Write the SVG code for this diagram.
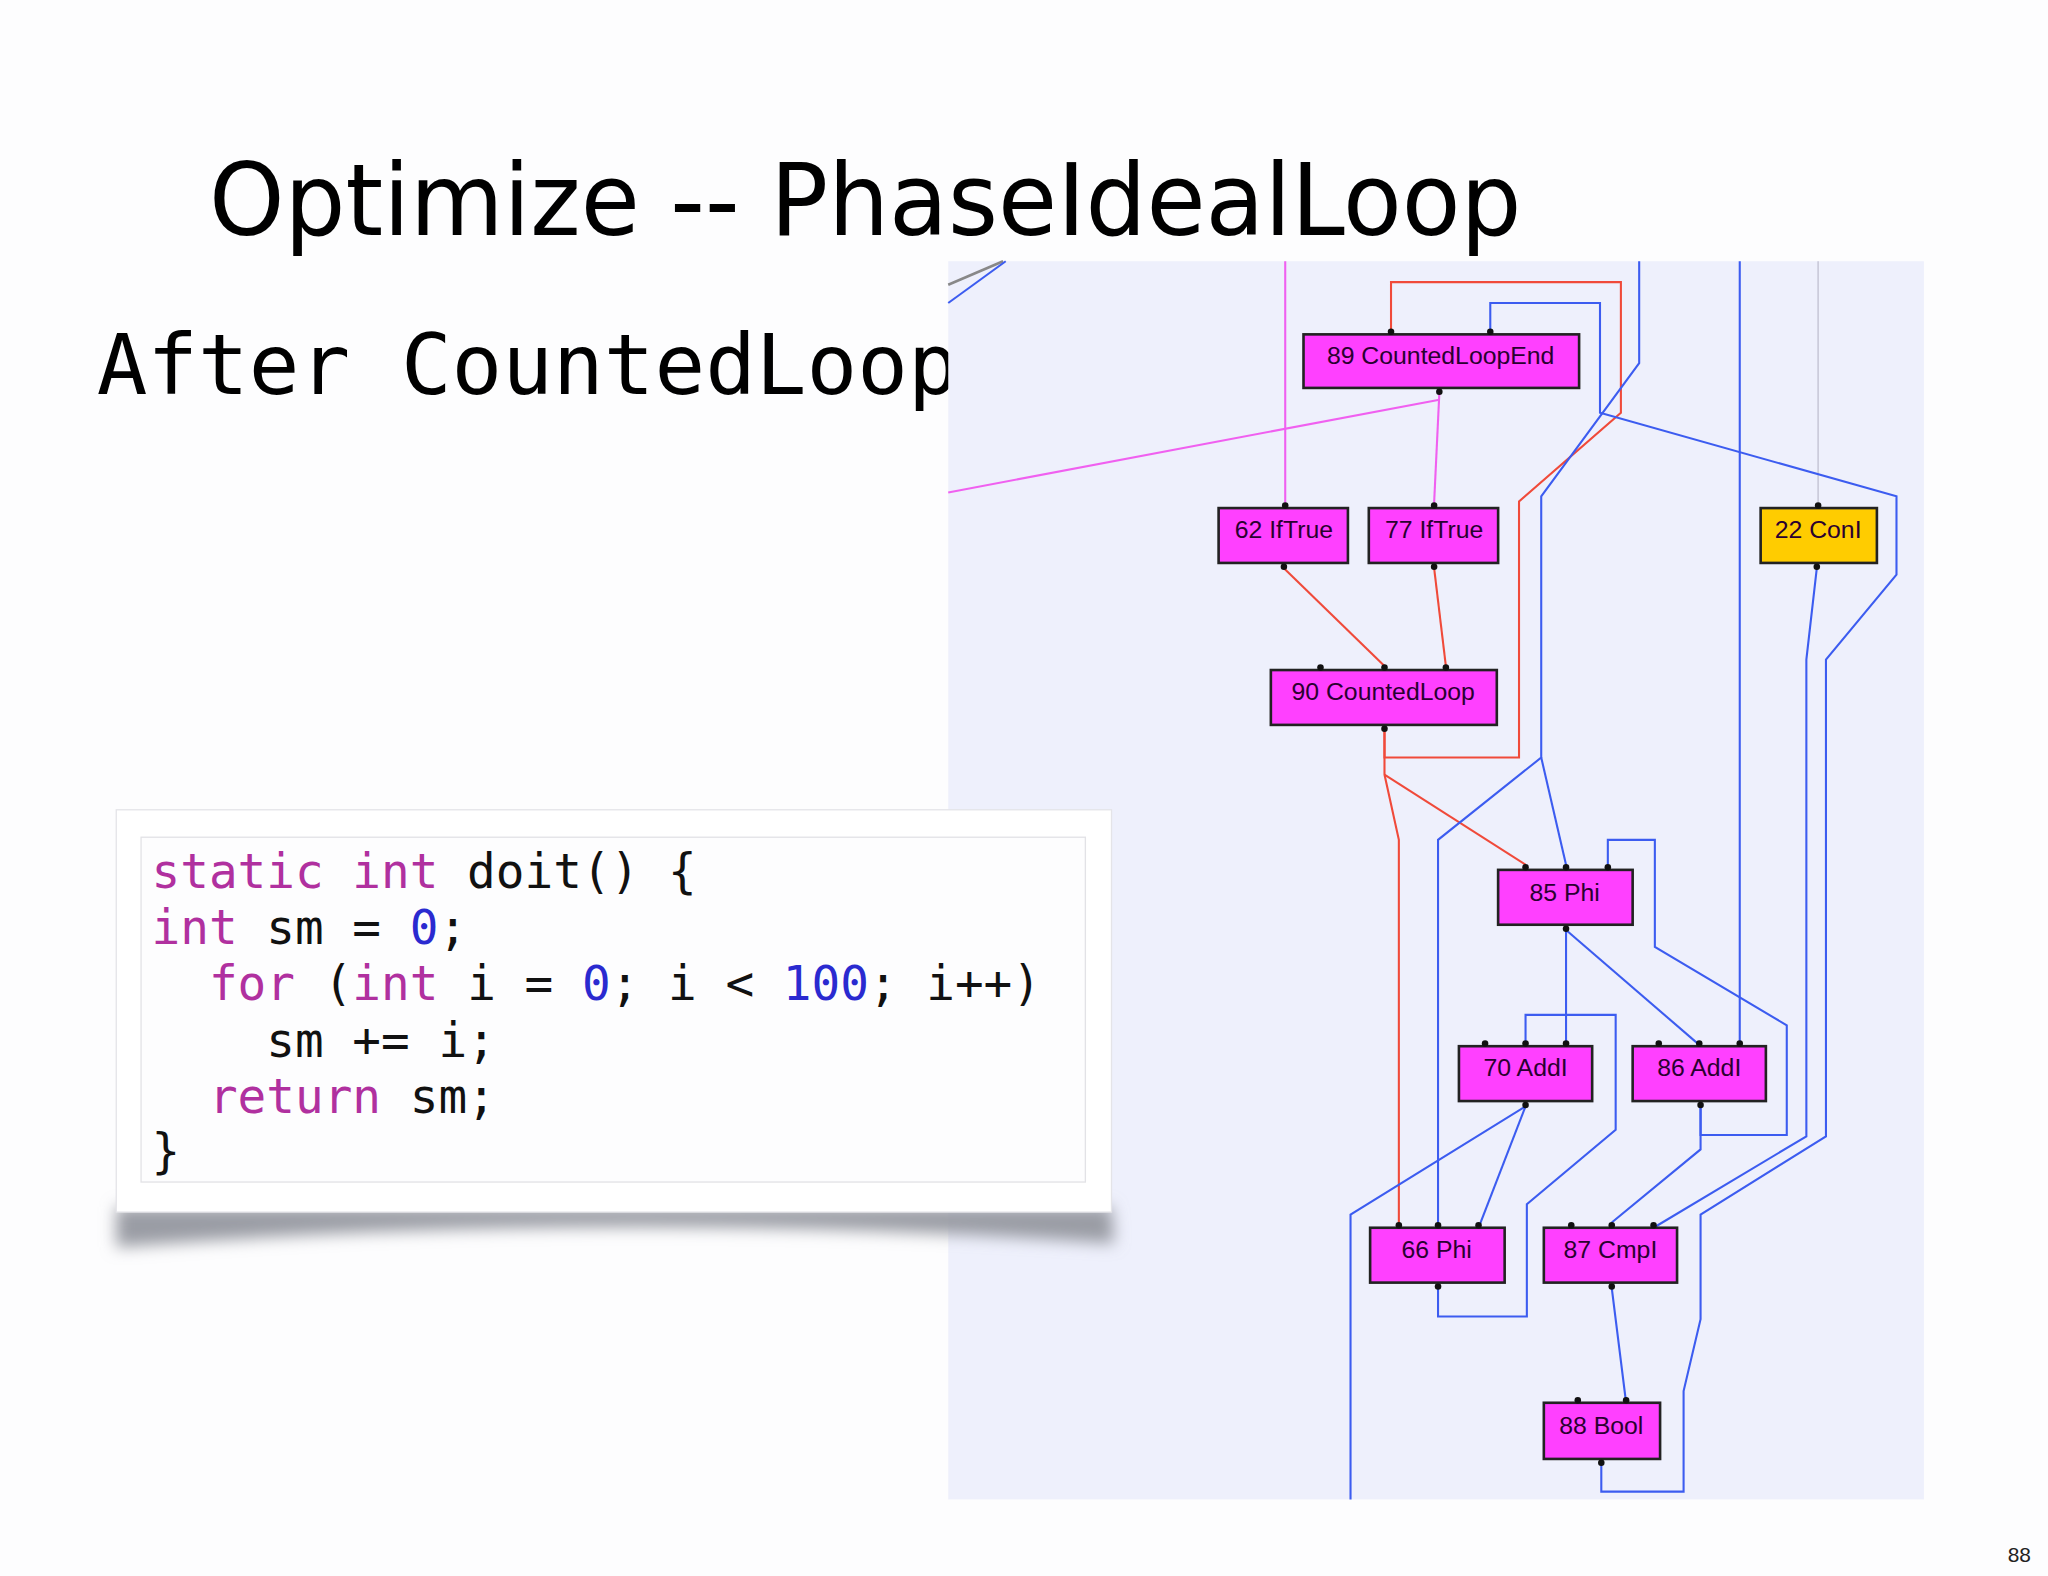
<svg xmlns="http://www.w3.org/2000/svg" width="2048" height="1576" viewBox="0 0 2048 1576">
<defs>
<style>
.node rect{fill:#ff40ff;stroke:#222;stroke-width:2}
.node text{font-family:"Liberation Sans",Arial,sans-serif;font-size:19px;fill:#2a0030;text-anchor:middle}
.r{fill:none;stroke:#f04a3a;stroke-width:1.6}
.b{fill:none;stroke:#3c5cf0;stroke-width:1.6}
.m{fill:none;stroke:#f060f0;stroke-width:1.6}
.code{font-family:"DejaVu Sans Mono","Liberation Mono",monospace;font-size:36.5px;fill:#111}
.k{fill:#b0309f}.n{fill:#2a2ad0}
</style>
<filter id="blur" x="-10%" y="-50%" width="120%" height="200%"><feGaussianBlur stdDeviation="6"/></filter>
</defs>
<rect width="2048" height="1576" fill="#fdfdfe"/>
<g transform="scale(1.30612)">
<text x="160" y="180" font-family="DejaVu Sans,sans-serif" font-size="76" textLength="1005" lengthAdjust="spacingAndGlyphs" fill="#000">Optimize -- PhaseIdealLoop</text>
<text x="74" y="302" font-family="DejaVu Sans Mono,monospace" font-size="64" textLength="660" lengthAdjust="spacingAndGlyphs" fill="#000">After CountedLoop</text>
<rect x="726" y="200" width="747" height="948" fill="#eef0fc"/>
<line x1="726" y1="218" x2="768" y2="200" stroke="#888" stroke-width="2"/>
<line x1="726" y1="232" x2="770" y2="200" stroke="#3c5cf0" stroke-width="1.6"/>
<g id="connectors">
<polyline class="m" points="984,200 984,385"/>
<polyline class="m" points="1102,301 1098,385"/>
<polyline class="m" points="1102,306 726,377"/>
<polyline points="1392,200 1392,385" fill="none" stroke="#c8c8d8" stroke-width="1.2"/>
<polyline class="r" points="1060,559 1060,580 1163,580 1163,384 1241,316 1241,216 1065,216 1065,256"/>
<polyline class="r" points="1060,559 1060,593 1071,643 1071,940"/>
<polyline class="r" points="1060,593 1168,662"/>
<polyline class="r" points="983,435 1060,510"/>
<polyline class="r" points="1098,435 1107,510"/>
<polyline class="b" points="1255,200 1255,278 1180,380 1180,580 1101,643 1101,940"/>
<polyline class="b" points="1180,580 1199,662"/>
<polyline class="b" points="1141,256 1141,232 1225,232 1225,316 1452,380 1452,440 1398,505 1398,870 1302,930 1302,1010 1289,1065 1289,1142 1226,1142 1226,1121"/>
<polyline class="b" points="1332,200 1332,800"/>
<polyline class="b" points="1391,435 1383,505 1383,870 1266,940"/>
<polyline class="b" points="1231,662 1231,643 1267,643 1267,725 1368,785 1368,869 1302,869 1302,848"/>
<polyline class="b" points="1302,848 1302,880 1234,936"/>
<polyline class="b" points="1199,712 1199,800"/>
<polyline class="b" points="1199,712 1301,800"/>
<polyline class="b" points="1168,800 1168,777 1237,777 1237,865 1169,922 1169,1008 1101,1008 1101,986"/>
<polyline class="b" points="1168,847 1132,940"/>
<polyline class="b" points="1168,847 1034,930 1034,1148"/>
<polyline class="b" points="1234,986 1245,1074"/>
</g>
<g id="n89" class="node"><rect x="998" y="256" width="211" height="41"/><text x="1103" y="279">89 CountedLoopEnd</text></g>
<g id="n62" class="node"><rect x="933" y="389" width="99" height="42"/><text x="983" y="412">62 IfTrue</text></g>
<g id="n77" class="node"><rect x="1048" y="389" width="99" height="42"/><text x="1098" y="412">77 IfTrue</text></g>
<g id="n22" class="node"><rect x="1348" y="389" width="89" height="42" style="fill:#ffcc00"/><text x="1392" y="412">22 ConI</text></g>
<g id="n90" class="node"><rect x="973" y="513" width="173" height="42"/><text x="1059" y="536">90 CountedLoop</text></g>
<g id="n85" class="node"><rect x="1147" y="666" width="103" height="42"/><text x="1198" y="690">85 Phi</text></g>
<g id="n70" class="node"><rect x="1117" y="801" width="102" height="42"/><text x="1168" y="824">70 AddI</text></g>
<g id="n86" class="node"><rect x="1250" y="801" width="102" height="42"/><text x="1301" y="824">86 AddI</text></g>
<g id="n66" class="node"><rect x="1049" y="940" width="103" height="42"/><text x="1100" y="963">66 Phi</text></g>
<g id="n87" class="node"><rect x="1182" y="940" width="102" height="42"/><text x="1233" y="963">87 CmpI</text></g>
<g id="n88" class="node"><rect x="1182" y="1074" width="89" height="43"/><text x="1226" y="1098">88 Bool</text></g>
<g id="ports" fill="#111">
<circle cx="1065" cy="254" r="2.5"/><circle cx="1141" cy="254" r="2.5"/><circle cx="1102" cy="300" r="2.5"/>
<circle cx="984" cy="387" r="2.5"/><circle cx="983" cy="434" r="2.5"/><circle cx="1098" cy="387" r="2.5"/><circle cx="1098" cy="434" r="2.5"/>
<circle cx="1392" cy="387" r="2.5"/><circle cx="1391" cy="434" r="2.5"/>
<circle cx="1011" cy="511" r="2.5"/><circle cx="1060" cy="511" r="2.5"/><circle cx="1107" cy="511" r="2.5"/><circle cx="1060" cy="558" r="2.5"/>
<circle cx="1168" cy="664" r="2.5"/><circle cx="1199" cy="664" r="2.5"/><circle cx="1231" cy="664" r="2.5"/><circle cx="1199" cy="711" r="2.5"/>
<circle cx="1137" cy="799" r="2.5"/><circle cx="1168" cy="799" r="2.5"/><circle cx="1199" cy="799" r="2.5"/><circle cx="1168" cy="846" r="2.5"/>
<circle cx="1270" cy="799" r="2.5"/><circle cx="1301" cy="799" r="2.5"/><circle cx="1332" cy="799" r="2.5"/><circle cx="1302" cy="846" r="2.5"/>
<circle cx="1071" cy="938" r="2.5"/><circle cx="1101" cy="938" r="2.5"/><circle cx="1132" cy="938" r="2.5"/><circle cx="1101" cy="985" r="2.5"/>
<circle cx="1203" cy="938" r="2.5"/><circle cx="1234" cy="938" r="2.5"/><circle cx="1266" cy="938" r="2.5"/><circle cx="1234" cy="985" r="2.5"/>
<circle cx="1208" cy="1072" r="2.5"/><circle cx="1245" cy="1072" r="2.5"/><circle cx="1226" cy="1120" r="2.5"/>
</g>
<g id="codecard">
<path d="M89,924 L851,924 L853,952 Q470,925 89,955 Z" fill="#9a9ca4" filter="url(#blur)"/>
<rect x="89" y="620" width="762" height="308" fill="#ffffff" stroke="#e4e4e8" stroke-width="1"/>
<rect x="108" y="641" width="723" height="264" fill="#fdfdfe" stroke="#e2e2e6" stroke-width="1"/>
<text class="code" x="116" y="680"><tspan class="k">static int</tspan> doit() {</text>
<text class="code" x="116" y="723">  <tspan class="k">int</tspan> sm = <tspan class="n">0</tspan>;</text>
<text class="code" x="116" y="766" xml:space="preserve">  <tspan class="k">for</tspan> (<tspan class="k">int</tspan> i = <tspan class="n">0</tspan>; i &lt; <tspan class="n">100</tspan>; i++)</text>
<text class="code" x="116" y="809" xml:space="preserve">    sm += i;</text>
<text class="code" x="116" y="852" xml:space="preserve">  <tspan class="k">return</tspan> sm;</text>
<text class="code" x="116" y="894">}</text>
</g>
<text x="1546" y="1196" font-family="Liberation Sans,sans-serif" font-size="16" text-anchor="middle" fill="#222">88</text>
</g>
</svg>
